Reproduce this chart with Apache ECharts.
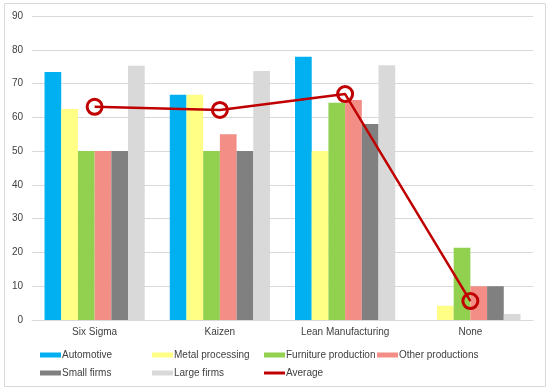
<!DOCTYPE html>
<html><head><meta charset="utf-8">
<script src="https://cdn.jsdelivr.net/npm/echarts@6/dist/echarts.min.js"></script>
<style>html,body{margin:0;padding:0;background:#fff}#c{width:550px;height:392px}</style>
</head><body><div id="c"></div>
<script>
const categories = ['Six Sigma', 'Kaizen', 'Lean Manufacturing', 'None'];
const automotive = [73.4, 66.7, 77.9, 0];
const metalProcessing = [62.5, 66.7, 50, 4.2];
const furnitureProduction = [50, 50, 64.3, 21.4];
const otherProductions = [50, 55.0, 65.1, 10];
const smallFirms = [50, 50, 58.0, 10];
const largeFirms = [75.3, 73.7, 75.4, 1.8];
const average = [63.1, 62.2, 66.9, 5.6];
const yTicks = [0, 10, 20, 30, 40, 50, 60, 70, 80, 90];

const font = 'Liberation Sans, Arial, sans-serif';
const barSeries = [
  ['Automotive', automotive, '#00B0F0'],
  ['Metal processing', metalProcessing, '#FFFF85'],
  ['Furniture production', furnitureProduction, '#92D050'],
  ['Other productions', otherProductions, '#F28E86'],
  ['Small firms', smallFirms, '#808080'],
  ['Large firms', largeFirms, '#D9D9D9']
];
const series = barSeries.map(([n, d, c]) => ({
  name: n, type: 'bar', data: d, itemStyle: { color: c },
  barGap: '0%', barCategoryGap: '20%'
}));
series.push({
  name: 'Average', type: 'line', data: average, z: 10,
  lineStyle: { color: '#C00000', width: 2.5 },
  itemStyle: { color: 'rgba(0,0,0,0)', borderColor: '#C00000', borderWidth: 3 },
  symbol: 'circle', symbolSize: 15, showSymbol: true
});

const legendPos = [
  ['Automotive', 40, 350, '#00B0F0'],
  ['Metal processing', 152, 350, '#FFFF85'],
  ['Furniture production', 264, 350, '#92D050'],
  ['Other productions', 377, 350, '#F28E86'],
  ['Small firms', 40, 368, '#808080'],
  ['Large firms', 152, 368, '#D9D9D9'],
  ['Average', 264, 368, '#C00000']
];
const legends = legendPos.map(([n, x, y, c]) => ({
  data: [{ name: n, icon: 'rect', itemStyle: { color: c, borderWidth: 0 } }],
  left: x, top: y, itemWidth: 21, itemHeight: n === 'Average' ? 3 : 5, itemGap: 2,
  padding: 0, selectedMode: false,
  textStyle: { fontFamily: font, fontSize: 10, color: '#404040', padding: [0, 0, 0, -4] }
}));

const chart = echarts.init(document.getElementById('c'));
chart.setOption({
  animation: false,
  textStyle: { fontFamily: font },
  graphic: [{ type: 'rect', shape: { x: 4.5, y: 3.5, width: 541, height: 383 },
    style: { fill: 'none', stroke: '#D9D9D9', lineWidth: 1 }, silent: true }],
  legend: legends,
  grid: { left: 32, right: 17, top: 16, bottom: 72 },
  xAxis: {
    type: 'category', data: categories,
    axisLine: { show: true, lineStyle: { color: '#D9D9D9', width: 1 } },
    axisTick: { show: false },
    axisLabel: { interval: 0, fontFamily: font, fontSize: 10, color: '#404040', margin: 7 }
  },
  yAxis: {
    type: 'value', min: yTicks[0], max: yTicks[yTicks.length - 1], interval: 10,
    axisLine: { show: false }, axisTick: { show: false },
    axisLabel: { fontFamily: font, fontSize: 10, color: '#404040', margin: 9 },
    splitLine: { lineStyle: { color: '#D9D9D9', width: 1 } }
  },
  series: series
});
</script></body></html>
